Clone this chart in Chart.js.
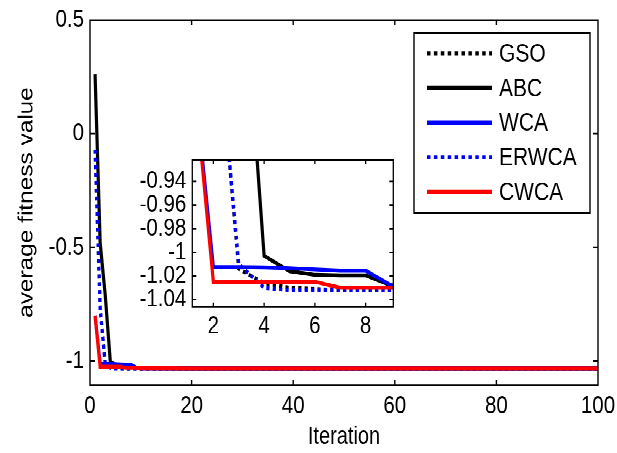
<!DOCTYPE html>
<html><head><meta charset="utf-8">
<script src="https://cdn.jsdelivr.net/npm/chart.js@4.4.1/dist/chart.umd.min.js"></script>
<style>
html,body{margin:0;padding:0;background:#fff;overflow:hidden;}
#outer{position:relative;width:617px;height:453px;overflow:hidden;}
#wrap{position:absolute;left:0;top:0;width:617px;height:371px;transform:scaleY(1.22102);transform-origin:0 0;}
#main{position:absolute;left:0;top:0;width:617px;height:371px;}
#inset{position:absolute;left:130px;top:122px;width:270px;height:160px;}
</style></head><body>
<div id="outer"><div id="wrap"><canvas id="main" width="617" height="371"></canvas><canvas id="inset" width="270" height="160"></canvas></div></div>
<script>
const iterations = [1,2,3,4,5,6,7,8,9,10,20,30,40,50,60,70,80,90,100];
const GSO   = [-0.07,-0.77,-1.014,-1.026,-1.030,-1.031,-1.032,-1.032,-1.032,-1.032,-1.032,-1.032,-1.032,-1.032,-1.032,-1.032,-1.032,-1.032,-1.032];
const ABC   = [0.26,-0.48,-0.71,-1.003,-1.016,-1.019,-1.0195,-1.0195,-1.028,-1.031,-1.032,-1.032,-1.032,-1.032,-1.032,-1.032,-1.032,-1.032,-1.032];
const WCA   = [-0.80,-1.0125,-1.0125,-1.0128,-1.0135,-1.0145,-1.0155,-1.0155,-1.028,-1.031,-1.032,-1.032,-1.032,-1.032,-1.032,-1.032,-1.032,-1.032,-1.032];
const ERWCA = [-0.07,-0.77,-1.010,-1.030,-1.032,-1.032,-1.032,-1.032,-1.032,-1.032,-1.032,-1.032,-1.032,-1.032,-1.032,-1.032,-1.032,-1.032,-1.032];
const CWCA  = [-0.80,-1.025,-1.025,-1.025,-1.025,-1.025,-1.030,-1.030,-1.030,-1.031,-1.032,-1.032,-1.032,-1.032,-1.032,-1.032,-1.032,-1.032,-1.032];

const seriesNames = ['GSO','ABC','WCA','ERWCA','CWCA'];
const xTicks = [0,20,40,60,80,100];
const xTickLabels = ['0','20','40','60','80','100'];
const yTicks = [0.5,0,-0.5,-1];
const yTickLabels = ['0.5','0','-0.5','-1'];
const insetXTicks = [2,4,6,8];
const insetXTickLabels = ['2','4','6','8'];
const insetYTicks = [-0.94,-0.96,-0.98,-1,-1.02,-1.04];
const insetYTickLabels = ['-0.94','-0.96','-0.98','-1','-1.02','-1.04'];

const FONT = "'Liberation Sans', Arial, Helvetica, sans-serif";

function pts(vals){ return iterations.map((it,i)=>({x:it,y:vals[i]})); }
function makeDatasets(){
  const styles = [
    {c:'#000000',dash:[3.2,3.2]},
    {c:'#000000',dash:[]},
    {c:'#0000ff',dash:[]},
    {c:'#0000ff',dash:[3.2,3.2]},
    {c:'#ff0000',dash:[]}
  ];
  const vals = [GSO,ABC,WCA,ERWCA,CWCA];
  return vals.map((v,i)=>({
    label: seriesNames[i],
    data: pts(v),
    borderColor: styles[i].c,
    backgroundColor: styles[i].c,
    borderWidth: 3.2,
    borderDash: styles[i].dash,
    borderCapStyle: 'butt',
    borderJoinStyle: 'miter',
    pointRadius: 0,
    tension: 0,
    fill: false,
    clip: 0,
    order: 4 - i
  }));
}

function framePlugin(tickLen, lw, white){
  return {
    id:'frame',
    beforeDatasetsDraw(chart){
      if(!white) return;
      const a = chart.chartArea, ctx = chart.ctx;
      ctx.save(); ctx.fillStyle='#fff'; ctx.fillRect(a.left,a.top,a.right-a.left,a.bottom-a.top); ctx.restore();
    },
    afterDatasetsDraw(chart){
      const {ctx, chartArea:a} = chart; const x = chart.scales.x, y = chart.scales.y;
      ctx.save(); ctx.strokeStyle='#000'; ctx.lineWidth=lw; ctx.setLineDash([]);
      ctx.beginPath();
      ctx.rect(a.left,a.top,a.right-a.left,a.bottom-a.top);
      x.ticks.forEach(t=>{const p=x.getPixelForValue(t.value);
        ctx.moveTo(p,a.bottom); ctx.lineTo(p,a.bottom-tickLen*0.82);
        ctx.moveTo(p,a.top); ctx.lineTo(p,a.top+tickLen*0.82);});
      y.ticks.forEach(t=>{const p=y.getPixelForValue(t.value);
        ctx.moveTo(a.left,p); ctx.lineTo(a.left+tickLen,p);
        ctx.moveTo(a.right,p); ctx.lineTo(a.right-tickLen,p);});
      ctx.stroke(); ctx.restore();
    }
  };
}

const legendPlugin = {
  id:'boxLegend',
  afterDraw(chart){
    const ctx = chart.ctx;
    const L = 414, T = 27, W = 176, H = 147.4;
    ctx.save();
    ctx.fillStyle='#fff'; ctx.fillRect(L,T,W,H);
    ctx.strokeStyle='#000'; ctx.lineWidth=1.4; ctx.setLineDash([]); ctx.strokeRect(L,T,W,H);
    ctx.font = "21px " + FONT; ctx.textBaseline='middle'; ctx.fillStyle='#000';
    chart.data.datasets.forEach((ds,i)=>{
      const yy = T + 16.7 + i*28.33;
      ctx.beginPath(); ctx.strokeStyle=ds.borderColor; ctx.lineWidth=ds.borderWidth;
      ctx.setLineDash(ds.borderDash.length ? [3.5,3.4] : []); ctx.lineCap='butt';
      ctx.moveTo(L+13,yy); ctx.lineTo(L+78,yy); ctx.stroke();
      ctx.setLineDash([]);
      ctx.fillText(ds.label, L+85, yy+1);
    });
    ctx.restore();
  }
};

function tickFont(size){ return {family:FONT, size:size}; }

new Chart(document.getElementById('main'), {
  type:'line',
  data:{datasets: makeDatasets()},
  options:{
    responsive:false, animation:false, devicePixelRatio:2,
    layout:{padding:{top:16.4,right:19,left:0,bottom:0}},
    plugins:{legend:{display:false}, tooltip:{enabled:false}},
    scales:{
      x:{type:'linear', min:0, max:100,
        afterBuildTicks:s=>{s.ticks = xTicks.map(v=>({value:v}));},
        afterFit:s=>{s.height=55.7; s.paddingLeft=0; s.paddingRight=0;},
        grid:{display:false, drawTicks:false}, border:{display:false},
        ticks:{padding:5, color:'#000', font:tickFont(20.5), maxRotation:0, autoSkip:false,
          callback:(v,i)=>xTickLabels[i]},
        title:{display:true, text:'Iteration', color:'#000', font:{family:FONT,size:20}, padding:{top:0,bottom:1}}
      },
      y:{type:'linear', min:-1.105, max:0.5,
        afterBuildTicks:s=>{s.ticks = yTicks.map(v=>({value:v}));},
        afterFit:s=>{s.width=90; s.paddingTop=0; s.paddingBottom=0;},
        grid:{display:false, drawTicks:false}, border:{display:false},
        ticks:{padding:6, color:'#000', font:tickFont(20.5), autoSkip:false,
          callback:(v,i)=>yTickLabels[i]},
        title:{display:true, text:'average fitness value', color:'#000', font:{family:FONT,size:20}, padding:{top:15,bottom:0}}
      }
    }
  },
  plugins:[framePlugin(5,1.4,false), legendPlugin]
});

new Chart(document.getElementById('inset'), {
  type:'line',
  data:{datasets: makeDatasets()},
  options:{
    responsive:false, animation:false, devicePixelRatio:2,
    layout:{padding:{top:9,right:6.7,left:0,bottom:0}},
    plugins:{legend:{display:false}, tooltip:{enabled:false}},
    scales:{
      x:{type:'linear', min:1.17, max:9.09,
        afterBuildTicks:s=>{s.ticks = insetXTicks.map(v=>({value:v}));},
        afterFit:s=>{s.height=30.8; s.paddingLeft=0; s.paddingRight=0;},
        grid:{display:false, drawTicks:false}, border:{display:false},
        ticks:{padding:4, color:'#000', font:tickFont(20.5), maxRotation:0, autoSkip:false,
          callback:(v,i)=>insetXTickLabels[i]}
      },
      y:{type:'linear', min:-1.046, max:-0.922,
        afterBuildTicks:s=>{s.ticks = insetYTicks.map(v=>({value:v}));},
        afterFit:s=>{s.width=62.3; s.paddingTop=0; s.paddingBottom=0;},
        grid:{display:false, drawTicks:false}, border:{display:false},
        ticks:{padding:6, color:'#000', font:tickFont(20.5), autoSkip:false,
          callback:(v,i)=>insetYTickLabels[i]}
      }
    }
  },
  plugins:[framePlugin(4,1.3,true)]
});
</script>
</body></html>
